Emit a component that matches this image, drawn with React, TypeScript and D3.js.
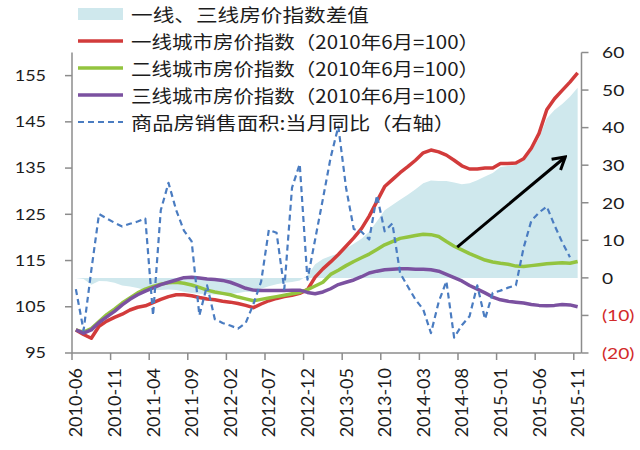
import React from 'react';
import * as d3 from 'd3';

// ---------- data ----------
const MONTHS: string[] = d3
  .timeMonths(new Date(2010, 5, 1), new Date(2015, 11, 1))
  .map(d3.timeFormat('%Y-%m'));

const TIER1: number[] = [
  100, 99.0, 98.2, 100.8, 101.9, 102.7, 103.4, 104.3, 104.9, 105.2,
  105.9, 106.6, 107.2, 107.6, 107.6, 107.4, 107.0, 106.7, 106.5, 106.2,
  106.0, 105.7, 105.3, 104.8, 105.6, 106.3, 106.8, 107.2, 107.5, 107.9,
  108.7, 111.4, 113.2, 114.7, 116.3, 118.1, 119.9, 121.9, 124.6, 127.8,
  131.0, 132.5, 134.0, 135.3, 136.7, 138.3, 138.9, 138.5, 137.8, 136.7,
  135.5, 134.8, 134.8, 135.0, 135.0, 136.0, 136.0, 136.1, 137.0, 139.3,
  142.5, 147.6, 150.0, 151.8, 153.6, 155.6,
];
const TIER2: number[] = [
  100, 99.5, 100.3, 101.8, 103.3, 104.5, 105.8, 106.9, 108.0, 108.8,
  109.4, 109.9, 110.2, 110.3, 110.1, 109.7, 109.2, 108.6, 108.2, 107.9,
  107.6, 107.1, 106.7, 106.3, 106.6, 106.9, 107.2, 107.5, 107.8, 108.1,
  108.7, 109.5, 110.3, 112.0, 112.9, 113.9, 114.8, 115.6, 116.4, 117.4,
  118.4, 119.1, 119.8, 120.1, 120.4, 120.7, 120.6, 120.2, 119.1, 118.1,
  117.3, 116.5, 115.8, 115.1, 114.7, 114.4, 114.2, 113.8, 113.7, 113.9,
  114.1, 114.3, 114.4, 114.5, 114.4, 114.8,
];
const TIER3: number[] = [
  100, 99.3, 100.0, 101.6, 102.8, 104.0, 105.4, 106.6, 107.6, 108.4,
  109.1, 109.8, 110.3, 110.8, 111.3, 111.4, 111.2, 111.0, 110.9, 110.7,
  110.3, 109.7, 109.0, 108.6, 108.5, 108.5, 108.5, 108.5, 108.6, 108.6,
  108.1, 107.8, 108.2, 108.9, 109.8, 110.3, 110.8, 111.5, 112.3, 112.7,
  113.0, 113.1, 113.2, 113.2, 113.1, 113.1, 113.0, 112.7, 112.0, 111.3,
  110.6, 109.6, 108.8, 108.0, 107.1, 106.5, 106.2, 106.0, 105.8, 105.5,
  105.3, 105.2, 105.3, 105.5, 105.4, 105.0,
];
// 商品房销售面积 当月同比 (%), right axis, ends 2015-10
const SALES_YOY: number[] = [
  -3, -14, 2, 17, 15.8, 14.7, 13.7, 14.4, 15.0, 15.8,
  -10, 18, 25.3, 18, 12.6, 9.7, -10, -2, -11, -12,
  -12.7, -13.5, -12, -7, -1, 12.8, 12, -3, 24, 30.3,
  -0.5, 10.3, 21, 32, 40.3, 24, 13, 12.3, 10.2, 22,
  12.4, 14.5, 1.3, -2.3, -5.8, -8.4, -14.7, -6.4, -0.9, -15.9,
  -12.6, -10.2, -2, -11, -4, -3.4, -2.6, -2, 8, 15.2,
  17.4, 19, 14, 9.5, 5.5,
];

const LEFT_TICKS: number[] = [95, 105, 115, 125, 135, 145, 155];
const RIGHT_TICKS: number[] = [-20, -10, 0, 10, 20, 30, 40, 50, 60];
const LABEL_EVERY = 5;

const LEGEND: string[] = [
  '一线、三线房价指数差值',
  '一线城市房价指数（2010年6月=100）',
  '二线城市房价指数（2010年6月=100）',
  '三线城市房价指数（2010年6月=100）',
  '商品房销售面积:当月同比（右轴）',
];

// arrow annotation: [month index, left-axis value]
const ARROW_FROM: [number, number] = [49.4, 117.9];
const ARROW_TO: [number, number] = [63.4, 137.4];

// ---------- styles ----------
const C_AREA = '#cfe8ed';
const C_RED = '#d23b3b';
const C_GREEN = '#93c43f';
const C_PURPLE = '#7b51a0';
const C_BLUE = '#4a7cc1';
const C_AXIS = '#8c8c8c';
const C_TEXT = '#1c1c1c';
const C_NEG = '#d22a2a';
const NUM_FONT = 'Lato, "Noto Sans", sans-serif';
const CJK_FONT = '"Noto Sans CJK SC", "Noto Sans", sans-serif';

export default function App() {
  const W = 640;
  const H = 450;
  const left = 72;
  const right = 581.5;
  const top = 52.5;
  const bottom = 353;

  const x = d3.scaleBand<string>().domain(MONTHS).range([left, right]).padding(0);
  const bw = x.bandwidth();
  const cx = (i: number) => (x(MONTHS[0]) as number) + bw * (i + 0.5);
  const yL = d3.scaleLinear().domain([95, 160]).range([bottom, top]);
  const yR = d3.scaleLinear().domain([-20, 60]).range([bottom, top]);

  const diff = TIER1.map((v, i) => v - TIER3[i]);
  const areaGen = d3
    .area<number>()
    .x((_, i) => cx(i))
    .y0(yR(0))
    .y1((d) => yR(d));
  const lineL = d3
    .line<number>()
    .x((_, i) => cx(i))
    .y((d) => yL(d));
  const lineR = d3
    .line<number>()
    .x((_, i) => cx(i))
    .y((d) => yR(d));

  const tickIdx = MONTHS.map((_, i) => i).filter((i) => i % LABEL_EVERY === 0);

  const legendX0 = 78;
  const legendX1 = 123;
  const legendTextX = 131;
  const rowY = (k: number) => 14 + k * 27;
  const legendLens = [238, 348, 348, 348, 324];

  const fmtR = (v: number) => (v < 0 ? `(${Math.abs(v)})` : `${v}`);

  return (
    <svg
      width={W}
      height={H}
      style={{ position: 'absolute', left: 0, top: 0, background: '#fff' }}
    >
      <defs>
        <marker
          id="ah"
          viewBox="0 0 16 18"
          refX="14"
          refY="9"
          markerWidth="16"
          markerHeight="18"
          markerUnits="userSpaceOnUse"
          orient="auto"
        >
          <path d="M2,2 L14,9 L2,16" fill="none" stroke="#000" strokeWidth={3} strokeLinejoin="miter" />
        </marker>
      </defs>
      <rect x={0} y={0} width={W} height={H} fill="#fff" />

      {/* area: tier1 - tier3 on right axis */}
      <path d={areaGen(diff) || ''} fill={C_AREA} />

      {/* axes */}
      <line x1={left} x2={left} y1={top} y2={bottom} stroke={C_AXIS} strokeWidth={1.5} />
      <line x1={right} x2={right} y1={top} y2={bottom} stroke={C_AXIS} strokeWidth={1.5} />
      <line x1={left} x2={right} y1={bottom} y2={bottom} stroke={C_AXIS} strokeWidth={1.5} />
      {LEFT_TICKS.map((t) => (
        <g key={'l' + t}>
          <line x1={left - 7} x2={left} y1={yL(t)} y2={yL(t)} stroke={C_AXIS} strokeWidth={1.5} />
          <text
            transform={`translate(46,${yL(t)}) scale(1.2,1)`}
            dy="0.36em"
            textAnchor="end"
            fontFamily={NUM_FONT}
            fontSize={15}
            fill={C_TEXT}
          >
            {t}
          </text>
        </g>
      ))}
      {RIGHT_TICKS.map((t) => (
        <g key={'r' + t}>
          <line x1={right} x2={right + 7} y1={yR(t)} y2={yR(t)} stroke={C_AXIS} strokeWidth={1.5} />
          <text
            transform={`translate(602,${yR(t)}) scale(1.2,1)`}
            dy="0.36em"
            textAnchor="start"
            fontFamily={NUM_FONT}
            fontSize={16}
            fill={t < 0 ? C_NEG : C_TEXT}
          >
            {fmtR(t)}
          </text>
        </g>
      ))}
      {tickIdx.map((i) => (
        <g key={'x' + i}>
          <line
            x1={x(MONTHS[i]) as number}
            x2={x(MONTHS[i]) as number}
            y1={bottom}
            y2={bottom + 7}
            stroke={C_AXIS}
            strokeWidth={1.5}
          />
          <text
            transform={`translate(${cx(i)},${bottom + 15}) rotate(-90)`}
            dy="0.36em"
            textAnchor="end"
            fontFamily={NUM_FONT}
            fontSize={18}
            fill={C_TEXT}
          >
            {MONTHS[i]}
          </text>
        </g>
      ))}

      {/* lines */}
      <path d={lineL(TIER1) || ''} fill="none" stroke={C_RED} strokeWidth={3.5} strokeLinejoin="round" />
      <path d={lineL(TIER2) || ''} fill="none" stroke={C_GREEN} strokeWidth={3.5} strokeLinejoin="round" />
      <path d={lineL(TIER3) || ''} fill="none" stroke={C_PURPLE} strokeWidth={3.5} strokeLinejoin="round" />
      <path
        d={lineR(SALES_YOY) || ''}
        fill="none"
        stroke={C_BLUE}
        strokeWidth={2.2}
        strokeDasharray="6,4"
        strokeLinejoin="round"
      />

      {/* arrow annotation */}
      <line
        x1={cx(ARROW_FROM[0])}
        y1={yL(ARROW_FROM[1])}
        x2={cx(ARROW_TO[0])}
        y2={yL(ARROW_TO[1])}
        stroke="#000"
        strokeWidth={3}
        markerEnd="url(#ah)"
      />

      {/* legend */}
      <rect x={legendX0} y={rowY(0) - 6} width={legendX1 - legendX0} height={12} fill={C_AREA} />
      {[C_RED, C_GREEN, C_PURPLE].map((c, k) => (
        <line
          key={'lg' + k}
          x1={legendX0}
          x2={legendX1}
          y1={rowY(k + 1)}
          y2={rowY(k + 1)}
          stroke={c}
          strokeWidth={3.5}
        />
      ))}
      <line
        x1={legendX0}
        x2={legendX1}
        y1={rowY(4)}
        y2={rowY(4)}
        stroke={C_BLUE}
        strokeWidth={2.2}
        strokeDasharray="6,4"
      />
      {LEGEND.map((s, k) => (
        <text
          key={'lt' + k}
          x={legendTextX}
          y={rowY(k)}
          dominantBaseline="central"
          fontFamily={CJK_FONT}
          fontSize={18}
          fill={C_TEXT}
          textLength={legendLens[k]}
          lengthAdjust="spacingAndGlyphs"
        >
          {s}
        </text>
      ))}
    </svg>
  );
}
